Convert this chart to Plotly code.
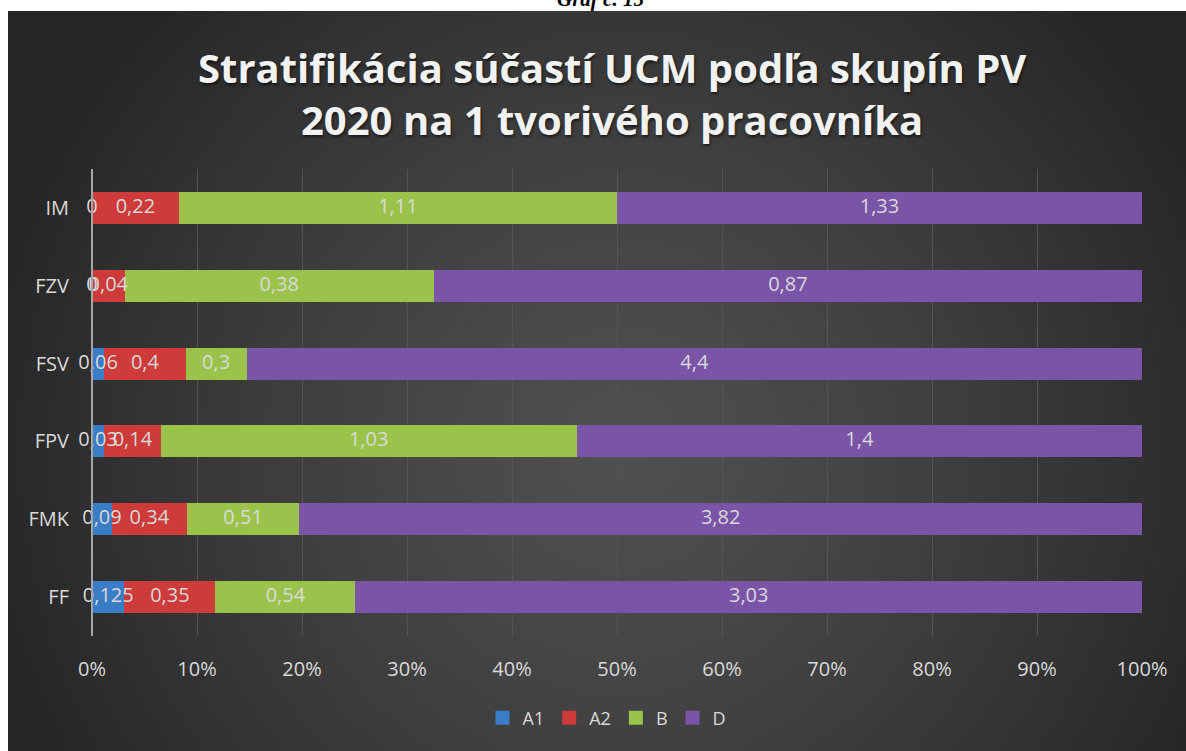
import zlib, struct, base64
import numpy as np
import plotly.graph_objects as go

# ---------------- data ----------------
categories = ["FF", "FMK", "FPV", "FSV", "FZV", "IM"]
series_names = ["A1", "A2", "B", "D"]
A1 = [0.125, 0.09, 0.03, 0.06, 0, 0]
A2 = [0.35, 0.34, 0.14, 0.4, 0.04, 0.22]
B = [0.54, 0.51, 1.03, 0.3, 0.38, 1.11]
D = [3.03, 3.82, 1.4, 4.4, 0.87, 1.33]
x_tick_vals = [0, 10, 20, 30, 40, 50, 60, 70, 80, 90, 100]
x_tick_text = ["0%", "10%", "20%", "30%", "40%", "50%", "60%", "70%", "80%", "90%", "100%"]
title_text = "Stratifikácia súčastí UCM podľa skupín PV<br>2020 na 1 tvorivého pracovníka"
caption_text = "Graf č. 15"

series_values = [A1, A2, B, D]
colors = ["#3B7CC6", "#CD3B3A", "#9BC34B", "#7A55A7"]

# ---------------- background gradient image ----------------
def png_data_uri(pixels):
    h, w, _ = pixels.shape
    raw = b"".join(b"\x00" + pixels[r].tobytes() for r in range(h))
    def chunk(t, d):
        c = struct.pack(">I", len(d)) + t + d
        return c + struct.pack(">I", zlib.crc32(t + d) & 0xFFFFFFFF)
    png = (b"\x89PNG\r\n\x1a\n"
           + chunk(b"IHDR", struct.pack(">IIBBBBB", w, h, 8, 2, 0, 0, 0))
           + chunk(b"IDAT", zlib.compress(raw, 9))
           + chunk(b"IEND", b""))
    return "data:image/png;base64," + base64.b64encode(png).decode()

W, H = 1186, 751
box_x0, box_y0 = 8, 11
gw, gh = 236, 148
xs = box_x0 + (np.arange(gw) + 0.5) * (W - box_x0) / gw
ys = box_y0 + (np.arange(gh) + 0.5) * (H - box_y0) / gh
XX, YY = np.meshgrid(xs, ys)
d = np.sqrt(((XX - 620) / 650) ** 2 + ((YY - 450) / 650) ** 2)
d = np.clip(d, 0, 1)
v = 80 - 42 * d ** 1.3
pix = np.clip(np.stack([v, v, v], axis=-1), 0, 255).astype(np.uint8)
bg_uri = png_data_uri(pix)

# ---------------- layout geometry ----------------
pl, pr, pt, pb = 92, 1142, 169, 636
m_l, m_r, m_t, m_b = pl, W - pr, pt, H - pb
pw, ph = pr - pl, pb - pt

def px_to_paper_x(px):
    return (px - pl) / pw

def px_to_paper_y(py):
    return (pb - py) / ph

fig = go.Figure()
for name, vals, col in zip(series_names, series_values, colors):
    fig.add_trace(go.Bar(
        name=name, y=categories, x=vals, orientation="h",
        marker=dict(color=col, line=dict(width=0)),
        hoverinfo="skip", showlegend=False, legendgroup=name,
    ))

# legend entries (square swatches like the original)
for name, col in zip(series_names, colors):
    fig.add_trace(go.Scatter(
        name=name, x=[None], y=[None], mode="markers",
        marker=dict(symbol="square", size=14, color=col),
        legendgroup=name, showlegend=True, hoverinfo="skip",
    ))

# data labels centered in each segment
totals = [sum(s[i] for s in series_values) for i in range(len(categories))]
lab_x, lab_y, lab_t = [], [], []
for i, cat in enumerate(categories):
    cum = 0.0
    for s in series_values:
        val = s[i]
        lab_x.append((cum + val / 2) / totals[i] * 100)
        lab_y.append(cat)
        lab_t.append(("%g" % val).replace(".", ","))
        cum += val
fig.add_trace(go.Scatter(
    x=lab_x, y=lab_y, text=lab_t, mode="text", showlegend=False,
    textfont=dict(family="Open Sans", size=20, color="#D9D9D9"),
    hoverinfo="skip", cliponaxis=False,
))

fig.update_layout(
    width=W, height=H,
    margin=dict(l=m_l, r=m_r, t=m_t, b=m_b, pad=0),
    barmode="stack", barnorm="percent", bargap=0.59,
    paper_bgcolor="white", plot_bgcolor="rgba(0,0,0,0)",
    font=dict(family="Open Sans", color="#D9D9D9"),
    showlegend=True,
    legend=dict(
        orientation="h", x=px_to_paper_x(607), xanchor="center",
        y=px_to_paper_y(718), yanchor="middle",
        traceorder="normal", font=dict(size=18, color="#D9D9D9"),
        bgcolor="rgba(0,0,0,0)", itemwidth=30,
        itemclick=False, itemdoubleclick=False,
    ),
    xaxis=dict(
        range=[0, 100], tickvals=x_tick_vals, ticktext=x_tick_text,
        showgrid=True, gridcolor="#545454", gridwidth=1,
        zeroline=False, showline=False, ticks="",
        tickfont=dict(size=20, color="#D9D9D9"), ticklabelstandoff=19,
    ),
    yaxis=dict(
        type="category", categoryorder="array", categoryarray=categories,
        range=[-0.5, 5.5], showgrid=False, zeroline=False,
        showline=False, ticks="",
        tickfont=dict(size=20, color="#D9D9D9"), ticklabelstandoff=22,
    ),
    images=[dict(
        source=bg_uri, xref="paper", yref="paper",
        x=px_to_paper_x(box_x0), y=px_to_paper_y(box_y0),
        sizex=(W - box_x0) / pw, sizey=(H - box_y0) / ph,
        xanchor="left", yanchor="top", sizing="stretch", layer="below",
    )],
    shapes=[dict(
        type="line", xref="paper", yref="paper",
        x0=0, x1=0, y0=0, y1=1,
        line=dict(color="#A6A6A6", width=2), layer="above",
    )],
    annotations=[
        dict(
            text="<b>" + title_text + "</b>", xref="paper", yref="paper",
            x=px_to_paper_x(612), y=px_to_paper_y(93), xanchor="center",
            yanchor="middle", showarrow=False,
            font=dict(family="Open Sans", size=40, color="#F2F2F2",
                      shadow="1px 2px 3px rgba(0,0,0,0.6)"),
        ),
        dict(
            text="<b><i>" + caption_text + "</i></b>", xref="paper", yref="paper",
            x=px_to_paper_x(600), y=px_to_paper_y(-1), xanchor="center",
            yanchor="middle", showarrow=False,
            font=dict(family="Liberation Serif", size=21, color="black"),
        ),
    ],
)

fig.write_html("out.html", config={"displayModeBar": False},
               post_script="document.body.style.margin='0';document.body.style.overflow='hidden';")
